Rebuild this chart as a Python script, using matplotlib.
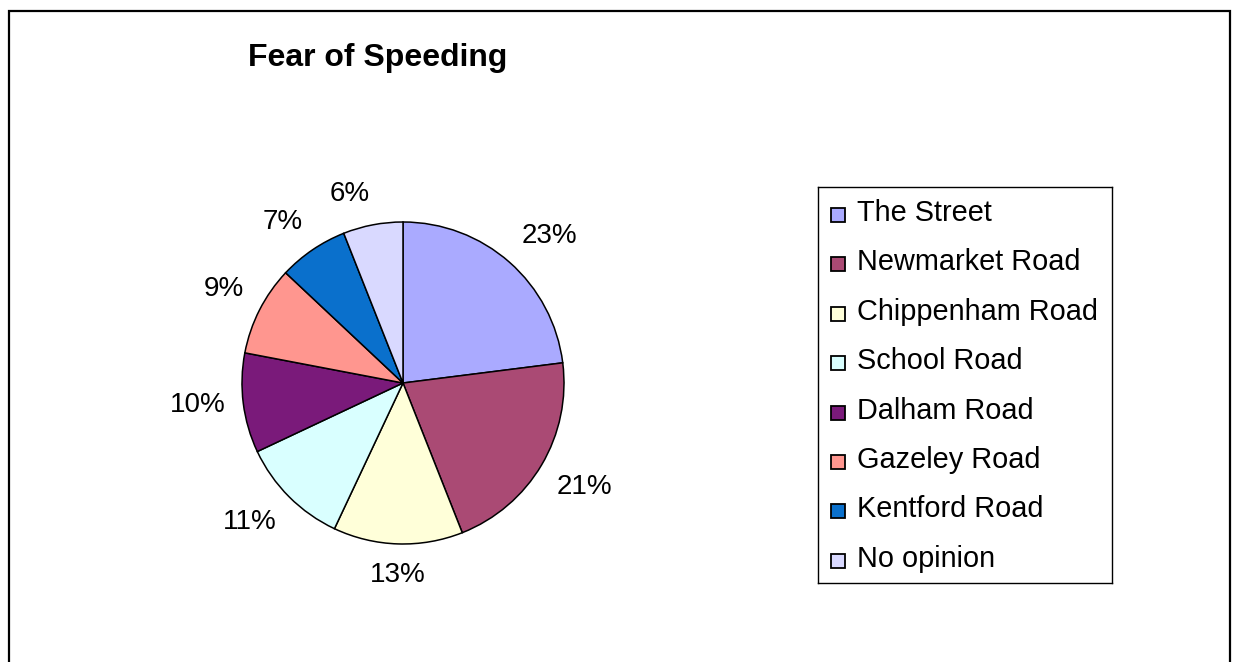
import matplotlib
matplotlib.use("Agg")
import numpy as np
import matplotlib.pyplot as plt
from matplotlib.patches import Rectangle

plt.rcParams['font.family'] = ['Liberation Sans', 'DejaVu Sans']

# Data
roads = ['The Street', 'Newmarket Road', 'Chippenham Road', 'School Road',
         'Dalham Road', 'Gazeley Road', 'Kentford Road', 'No opinion']
shares = [23, 21, 13, 11, 10, 9, 7, 6]
colours = ['#AAAAFF', '#AA4A74', '#FFFFD9', '#D9FFFF',
           '#7A1A7A', '#FF968F', '#0A70CC', '#D9D9FF']

W, H = 1233, 662
fig = plt.figure(figsize=(W / 100, H / 100), dpi=100)

# outer frame (bottom edge runs off the picture)
fig.patches.append(Rectangle((9 / W, -0.1), 1221 / W, (H - 11) / H + 0.1,
                             transform=fig.transFigure, fill=False,
                             edgecolor='black', linewidth=1.6))

fig.text(248 / W, 1 - 66 / H, 'Fear of Speeding', fontsize=23,
         fontweight='bold', va='baseline', ha='left')

# pie: centre (403, 383) px, radius 161 px
cx, cy, r = 403, 383, 161
ax = fig.add_axes([(cx - r) / W, (H - cy - r) / H, 2 * r / W, 2 * r / H])
wedges, _ = ax.pie(
    shares, colors=colours, startangle=90, counterclock=False,
    wedgeprops=dict(edgecolor='black', linewidth=1.1))
ax.set_xlim(-1, 1)
ax.set_ylim(-1, 1)
ax.axis('off')

# percentage labels, anchored just outside the rim like Excel does
for w, v in zip(wedges, shares):
    ang = np.deg2rad((w.theta1 + w.theta2) / 2)
    c, s = np.cos(ang), np.sin(ang)
    ha = 'center' if abs(c) < 0.1 else ('left' if c > 0 else 'right')
    if abs(s) < 0.2:
        va = 'center'
    else:
        va = 'bottom' if s > 0 else 'top'
    ax.text(1.11 * c, 1.11 * s, f'{v}%', ha=ha, va=va, fontsize=20,
            clip_on=False)

# legend box: (818, 187) to (1112, 583) px
lx0, ly0, lx1, ly1 = 818, 187, 1112, 583
lax = fig.add_axes([lx0 / W, (H - ly1) / H, (lx1 - lx0) / W, (ly1 - ly0) / H])
lax.set_xlim(0, lx1 - lx0)
lax.set_ylim(ly1 - ly0, 0)
lax.set_xticks([])
lax.set_yticks([])
for sp in lax.spines.values():
    sp.set_linewidth(1.0)

step = 49.4
for i, (name, col) in enumerate(zip(roads, colours)):
    base = 34 + i * step
    lax.add_patch(Rectangle((13, base - 13), 14, 14, facecolor=col,
                            edgecolor='black', linewidth=1.3))
    lax.text(39, base, name, fontsize=20.8, va='baseline', ha='left')

fig.savefig('out.png', dpi=100)
